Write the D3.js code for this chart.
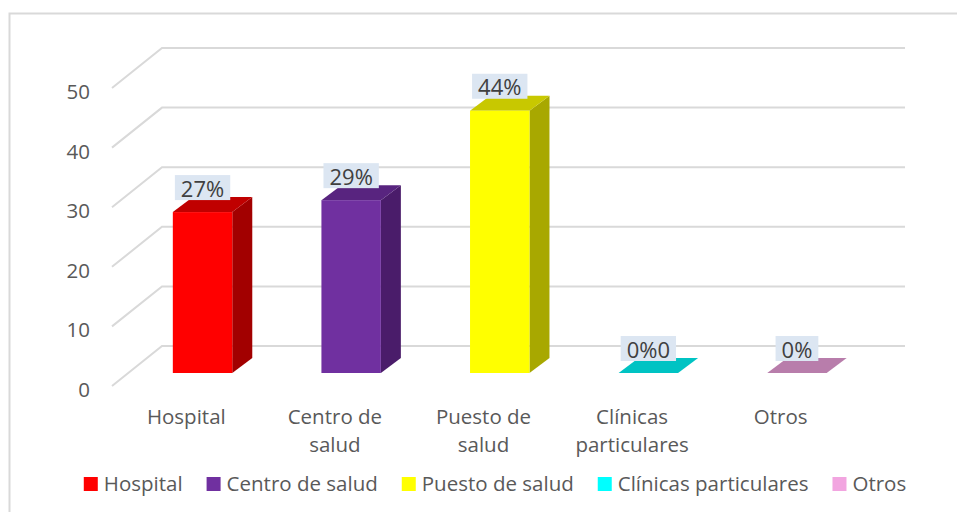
<!DOCTYPE html>
<html>
<head>
<meta charset="utf-8">
<script src="https://cdn.jsdelivr.net/npm/d3@7"></script>
<style>
  html, body { margin: 0; padding: 0; background: #fff; }
  svg { display: block; font-family: "Open Sans", "Noto Sans", sans-serif; }
</style>
</head>
<body>
<svg id="chart" width="957" height="512"></svg>
<script>
// Establecimientos de atención
const categories = ["Hospital", "Centro de salud", "Puesto de salud", "Clínicas particulares", "Otros"];
const axisLines = [["Hospital"], ["Centro de", "salud"], ["Puesto de", "salud"], ["Clínicas", "particulares"], ["Otros"]];
const values = [27, 29, 44, 0, 0];
const valueLabels = ["27%", "29%", "44%", "0%0", "0%"];
const yTicks = [0, 10, 20, 30, 40, 50];
const frontColors = ["#FF0000", "#7030A0", "#FFFF00", "#00FFFF", "#F2A5E0"];
const topColors = ["#C00000", "#58247F", "#C8C800", "#00C3C3", "#B87DAB"];
const sideColors = ["#A20000", "#4A1C6A", "#A8A800", "#009A9A", "#94648A"];

const fontSize = 20.5;
const svg = d3.select("#chart");

// outer frame
svg.append("rect")
  .attr("x", 9.5).attr("y", 13.5).attr("width", 960).attr("height", 520)
  .attr("fill", "none").attr("stroke", "#d9d9d9").attr("stroke-width", 2);

// 3D geometry: floor front edge, floor depth vector, bar depth
const floorY = 386;
const depth = { dx: 50, dy: -40 };
const barOffset = { dx: 16.25, dy: -13 };
const barDepth = { dx: 20, dy: -15 };

const x = d3.scaleBand().domain(categories).range([112, 855]).padding(0);
const y = d3.scaleLinear().domain([0, 50]).range([0, 298]);
const barW = x.bandwidth() * 0.4;

// gridlines: diagonal on the side wall + horizontal on the back wall
const grid = svg.append("g").attr("stroke", "#d9d9d9").attr("stroke-width", 2).attr("fill", "none");
yTicks.forEach(t => {
  const yf = floorY - y(t);
  const yb = yf + depth.dy;
  grid.append("path")
    .attr("d", `M${x.range()[0]},${yf}L${x.range()[0] + depth.dx},${yb}L${x.range()[1] + depth.dx},${yb}`);
});

// y axis labels
svg.append("g").selectAll("text").data(yTicks).join("text")
  .attr("x", 90).attr("y", d => floorY - y(d) + 3)
  .attr("text-anchor", "end").attr("dominant-baseline", "central")
  .attr("font-size", fontSize).attr("fill", "#595959")
  .text(d => d);

// bars
const bars = svg.append("g");
categories.forEach((c, i) => {
  const h = y(values[i]);
  const x0 = x(c) + x.bandwidth() / 2 + barOffset.dx - barW / 2;
  const x1 = x0 + barW;
  const yb = floorY + barOffset.dy;
  const yt = yb - h;
  const g = bars.append("g");
  if (h > 0) {
    g.append("path").attr("fill", sideColors[i])
      .attr("d", `M${x1},${yb}L${x1 + barDepth.dx},${yb + barDepth.dy}L${x1 + barDepth.dx},${yt + barDepth.dy}L${x1},${yt}Z`);
  }
  g.append("path").attr("fill", topColors[i])
    .attr("d", `M${x0},${yt}L${x0 + barDepth.dx},${yt + barDepth.dy}L${x1 + barDepth.dx},${yt + barDepth.dy}L${x1},${yt}Z`);
  if (h > 0) {
    g.append("rect").attr("fill", frontColors[i])
      .attr("x", x0).attr("y", yt).attr("width", barW).attr("height", h);
  }

  // value label with light box
  const lg = svg.append("g");
  const cx = (x0 + x1) / 2;
  const t = lg.append("text")
    .attr("x", cx).attr("y", yt - 24.5)
    .attr("text-anchor", "middle").attr("dominant-baseline", "central")
    .attr("font-size", 22).attr("fill", "#404040")
    .text(valueLabels[i]);
  const tw = t.node().getComputedTextLength();
  lg.insert("rect", "text")
    .attr("x", cx - tw / 2 - 6).attr("y", yt - 37)
    .attr("width", tw + 12).attr("height", 25)
    .attr("fill", "#DCE6F2");
});

// category labels
svg.append("g").selectAll("text").data(categories).join("text")
  .attr("text-anchor", "middle").attr("font-size", fontSize).attr("fill", "#595959")
  .attr("transform", d => `translate(${x(d) + x.bandwidth() / 2},424)`)
  .each(function(d, i) {
    d3.select(this).selectAll("tspan").data(axisLines[i]).join("tspan")
      .attr("x", 0).attr("dy", (l, j) => j === 0 ? 0 : 28).text(l => l);
  });

// legend
const legend = svg.append("g");
let lx = 0;
categories.forEach((c, i) => {
  const it = legend.append("g");
  it.append("rect").attr("x", 0).attr("y", 477).attr("width", 14).attr("height", 14).attr("fill", frontColors[i]);
  const tx = it.append("text").attr("x", 20).attr("y", 491).attr("font-size", fontSize).attr("fill", "#595959").text(c);
  const w = 20 + tx.node().getComputedTextLength();
  it.attr("transform", `translate(${lx},0)`);
  lx += w + 24;
});
const total = lx - 24;
legend.attr("transform", `translate(${495 - total / 2},0)`);
</script>
</body>
</html>
